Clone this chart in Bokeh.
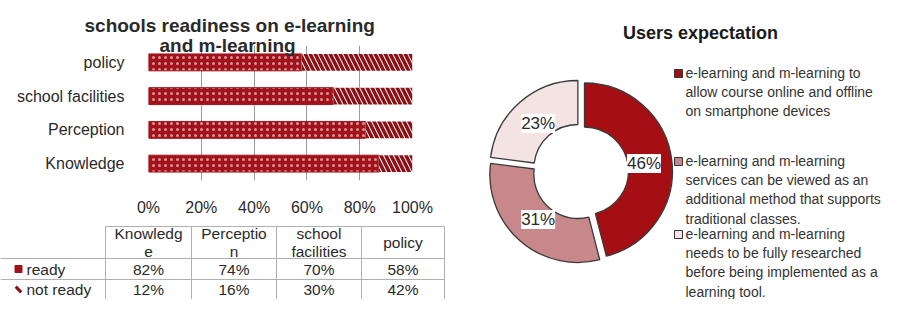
import math
from bokeh.plotting import figure
from bokeh.layouts import row, column
from bokeh.models import (Range1d, FactorRange, FixedTicker, NumeralTickFormatter,
                          Title, LabelSet, ColumnDataSource)
from bokeh.embed import file_html
from bokeh.resources import INLINE
from bokeh.core.properties import value

FONT = "Liberation Sans"
TXT = "#2a2a2a"

# ---------------- data ----------------
categories = ["Knowledge", "Perception", "school facilities", "policy"]
ready = [82, 74, 70, 58]
not_ready = [12, 16, 30, 42]
table_headers = ["Knowledg\ne", "Perceptio\nn", "school\nfacilities", "policy"]
series_names = ["ready", "not ready"]
bar_title_lines = ["schools readiness on e-learning", "and m-learning"]
x_ticks = [0, 0.2, 0.4, 0.6, 0.8, 1.0]

pie_title = "Users expectation"
pie_values = [46, 31, 23]
pie_labels = [
    "e-learning and m-learning to\nallow course online and offline\non smartphone devices",
    "e-learning and m-learning\nservices can be viewed as an\nadditional method that supports\ntraditional classes.",
    "e-learning and m-learning\nneeds to be fully researched\nbefore being implemented as a\nlearning tool.",
]
pie_colors = ["#a50e12", "#c8878a", "#f4e3e3"]

READY_COLOR = "#a3121a"
STRIPE_COLOR = "#8c0f15"

# ---------------- bar chart ----------------
tot = [r + n for r, n in zip(ready, not_ready)]
share_r = [r / t for r, t in zip(ready, tot)]
share_end = [(r + n) / t for r, n, t in zip(ready, not_ready, tot)]
src = ColumnDataSource(dict(cat=categories, zero=[0] * len(categories), r=share_r, end=share_end))

bar = figure(title=None, y_range=FactorRange(factors=categories), x_range=Range1d(0, 1),
             frame_width=264, frame_height=135,
             min_border_left=148, min_border_right=33, min_border_top=45, min_border_bottom=42,
             output_backend="svg", toolbar_location=None)
bar.hbar(y="cat", left="zero", right="r", height=0.5, source=src,
         fill_color=READY_COLOR, line_color=READY_COLOR,
         hatch_pattern=".", hatch_color="white", hatch_alpha=0.55,
         hatch_scale=6, hatch_weight=1.2)
bar.hbar(y="cat", left="r", right="end", height=0.5, source=src,
         fill_color="white", line_color=None,
         hatch_pattern="\\", hatch_color=STRIPE_COLOR, hatch_scale=10, hatch_weight=3.5)

bar.xaxis.ticker = FixedTicker(ticks=x_ticks)
bar.xgrid.ticker = FixedTicker(ticks=x_ticks)
bar.xgrid.grid_line_color = "#9a9a9a"
bar.ygrid.grid_line_color = None
bar.xaxis.formatter = NumeralTickFormatter(format="0%")
for ax in (bar.xaxis[0], bar.yaxis[0]):
    ax.axis_line_color = None
    ax.major_tick_line_color = None
    ax.minor_tick_line_color = None
    ax.major_label_text_font = FONT
    ax.major_label_text_font_size = "16px"
    ax.major_label_text_color = TXT
bar.xaxis.major_label_standoff = 12
bar.yaxis.major_label_standoff = 18
bar.outline_line_color = None

# two title lines (second line nearest the frame)
bar.add_layout(Title(text=bar_title_lines[1], align="left", offset=11, standoff=-20,
                     text_font=FONT, text_font_size="19px", text_font_style="bold",
                     text_color=TXT), "above")
bar.add_layout(Title(text=bar_title_lines[0], align="left", offset=-64, standoff=14,
                     text_font=FONT, text_font_size="19px", text_font_style="bold",
                     text_color=TXT), "above")

# ---------------- table under bar chart ----------------
col_edges = [105, 191, 276, 361, 444]
row_edges = [4, 36, 57, 77]
tbl = figure(width=445, height=77, x_range=Range1d(0, 445), y_range=Range1d(77, 0),
             min_border=0, x_axis_type=None, y_axis_type=None,
             output_backend="svg", toolbar_location=None)
tbl.grid.visible = False
tbl.outline_line_color = None
LINE = "#b0b0b0"
tbl.segment(x0=[col_edges[0]], y0=[row_edges[0]], x1=[col_edges[-1]], y1=[row_edges[0]], line_color=LINE)
tbl.segment(x0=[0, 0], y0=row_edges[1:3], x1=[col_edges[-1]] * 2, y1=row_edges[1:3], line_color=LINE)
tbl.segment(x0=col_edges, y0=[row_edges[0]] * len(col_edges), x1=col_edges,
            y1=[row_edges[-1]] * len(col_edges), line_color=LINE)

centers = [(a + b) / 2 for a, b in zip(col_edges[:-1], col_edges[1:])]
hdr_y = (row_edges[0] + row_edges[1]) / 2
r1_y = (row_edges[1] + row_edges[2]) / 2
r2_y = (row_edges[2] + row_edges[3]) / 2
TF = "15.5px"
tbl.text(x=centers, y=[hdr_y] * 4, text=table_headers, text_align="center", text_baseline="middle",
         text_font=value(FONT), text_font_size=TF, text_color=TXT, text_line_height=1.05)
tbl.text(x=centers, y=[r1_y] * 4, text=[f"{v}%" for v in ready], text_align="center",
         text_baseline="middle", text_font=value(FONT), text_font_size=TF, text_color=TXT)
tbl.text(x=centers, y=[r2_y] * 4, text=[f"{v}%" for v in not_ready], text_align="center",
         text_baseline="middle", text_font=value(FONT), text_font_size=TF, text_color=TXT)
tbl.text(x=[26, 26], y=[r1_y, r2_y], text=series_names, text_align="left", text_baseline="middle",
         text_font=value(FONT), text_font_size=TF, text_color=TXT)
tbl.scatter(x=[18], y=[r1_y], marker="square", size=7, fill_color=READY_COLOR, line_color=READY_COLOR)
tbl.scatter(x=[18], y=[r2_y], marker="dash", size=8, angle=-0.8, line_color=STRIPE_COLOR, line_width=3)

# ---------------- donut ----------------
PW, PH = 438, 299
pie = figure(width=PW, height=PH, x_range=Range1d(0, PW), y_range=Range1d(0, PH),
             min_border=0, x_axis_type=None, y_axis_type=None,
             output_backend="svg", toolbar_location=None)
pie.grid.visible = False
pie.outline_line_color = None

cx, cy, r_in, r_out, explode, r_lab = 135, 128, 44, 88, 4, 64
total = sum(pie_values)
starts, ends, mids = [], [], []
acc = 0
for v in pie_values:
    a0 = math.pi / 2 - 2 * math.pi * acc / total
    acc += v
    a1 = math.pi / 2 - 2 * math.pi * acc / total
    starts.append(a0); ends.append(a1); mids.append((a0 + a1) / 2)
psrc = ColumnDataSource(dict(
    x=[cx + explode * math.cos(m) for m in mids],
    y=[cy + explode * math.sin(m) for m in mids],
    start=starts, end=ends, color=pie_colors,
    lx=[cx + r_lab * math.cos(m) for m in mids],
    ly=[cy + r_lab * math.sin(m) for m in mids],
    lab=[f"{v}%" for v in pie_values],
))
pie.annular_wedge(x="x", y="y", inner_radius=r_in, outer_radius=r_out, start_angle="start",
                  end_angle="end", direction="clock", fill_color="color", line_color="#3a3a3a",
                  line_width=1.3, source=psrc)
pie.add_layout(LabelSet(x="lx", y="ly", text="lab", source=psrc, text_align="center",
                        text_baseline="middle", text_font=value(FONT), text_font_size="17px",
                        text_color=TXT, background_fill_color="white"))

pie.text(x=[255], y=[PH - 32], text=[pie_title], text_align="center", text_baseline="middle",
         text_font=value(FONT), text_font_size="18px", text_font_style="bold", text_color="#1a1a1a")

leg_first = [73, 161, 234]   # first-line centres, px from top
pie.scatter(x=[233] * 3, y=[PH - v for v in leg_first], marker="square", size=8,
            fill_color=pie_colors, line_color="#333333")
pie.text(x=[240] * 3, y=[PH - v + 8.5 for v in leg_first], text=pie_labels, text_align="left",
         text_baseline="top", text_font=value(FONT), text_font_size="14px", text_color="#333333",
         text_line_height=1.2)

layout = row(column(bar, row(tbl)), pie)
open("out.html", "w").write(file_html(layout, INLINE))
